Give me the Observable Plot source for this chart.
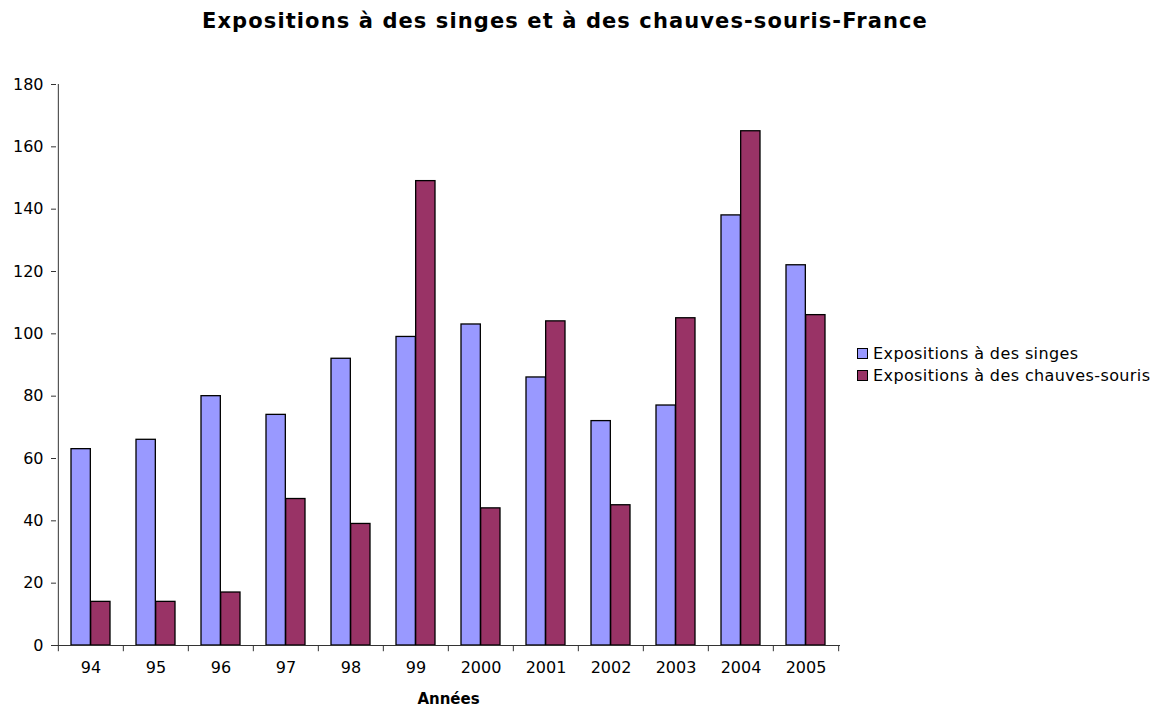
<!DOCTYPE html>
<html>
<head>
<meta charset="utf-8">
<script src="https://cdn.jsdelivr.net/npm/d3@7"></script>
<script src="https://cdn.jsdelivr.net/npm/@observablehq/plot@0.6"></script>
<style>
  html, body { margin: 0; padding: 0; background: #fff; }
  #wrap { position: relative; width: 1155px; height: 709px; font-family: "DejaVu Sans", Verdana, sans-serif; }
  #title { position: absolute; left: 0; top: 9px; width: 1130px; text-align: center; font-weight: bold; font-size: 21px; letter-spacing: 1.1px; color: #000; }
  #chart { position: absolute; left: 0; top: 50px; }
  #legend { position: absolute; left: 857px; top: 342px; font-size: 16px; letter-spacing: 0.4px; color: #000; }
  .item { display: flex; align-items: center; height: 22px; }
  .sw { width: 11px; height: 11px; border: 1px solid #000; margin-right: 5px; box-sizing: border-box; }
</style>
</head>
<body>
<div id="wrap">
  <div id="title">Expositions à des singes et à des chauves-souris-France</div>
  <div id="chart"></div>
  <div id="legend"></div>
</div>
<script>
const years = ["94","95","96","97","98","99","2000","2001","2002","2003","2004","2005"];
const singes = [63, 66, 80, 74, 92, 99, 103, 86, 72, 77, 138, 122];
const chauves = [14, 14, 17, 47, 39, 149, 44, 104, 45, 105, 165, 106];
const seriesNames = ["Expositions à des singes", "Expositions à des chauves-souris"];
const seriesColors = ["#9999FF", "#993366"];
const yTicks = [0, 20, 40, 60, 80, 100, 120, 140, 160, 180];

const W = 1155, H = 659, mL = 56, mR = 315, mT = 34, mB = 64;
const bw = (W - mL - mR) / years.length;
const outer = 13, half = (bw - 2 * outer) / 2;

const dataS = years.map((y, i) => ({year: y, value: singes[i]}));
const dataC = years.map((y, i) => ({year: y, value: chauves[i]}));

const chart = Plot.plot({
  width: W, height: H,
  marginLeft: mL, marginRight: mR, marginTop: mT, marginBottom: mB,
  style: {fontFamily: "DejaVu Sans, Verdana, sans-serif", fontSize: "16px", color: "#000", background: "#fff"},
  x: {domain: years, padding: 0, label: null},
  y: {domain: [0, 180], label: null},
  marks: [
    Plot.barY(dataS, {x: "year", y: "value", fill: seriesColors[0], stroke: "#000", strokeWidth: 1.3, insetLeft: outer, insetRight: outer + half}),
    Plot.barY(dataC, {x: "year", y: "value", fill: seriesColors[1], stroke: "#000", strokeWidth: 1.3, insetLeft: outer + half, insetRight: outer}),
    Plot.ruleY([0], {stroke: "#333"}),
    Plot.ruleX([years[0]], {y1: 0, y2: 180, dx: -bw / 2, stroke: "#333"}),
    Plot.ruleX(years, {y1: 0, y2: -2, dx: -bw / 2, stroke: "#333"}),
    Plot.ruleX([years[years.length - 1]], {y1: 0, y2: -2, dx: bw / 2, stroke: "#333"}),
    Plot.axisY({ticks: yTicks, tickSize: 5, tickPadding: 8, label: null, fontSize: 16, stroke: "#333"}),
    Plot.axisX({tickSize: 0, tickPadding: 16, label: null, fontSize: 16}),
    Plot.text(["Années"], {frameAnchor: "bottom", dy: 58, fontWeight: "bold", fontSize: 15})
  ]
});
document.getElementById("chart").appendChild(chart);

const legend = document.getElementById("legend");
seriesNames.forEach((n, i) => {
  const it = document.createElement("div");
  it.className = "item";
  const sw = document.createElement("div");
  sw.className = "sw";
  sw.style.background = seriesColors[i];
  const t = document.createElement("span");
  t.textContent = n;
  it.appendChild(sw); it.appendChild(t);
  legend.appendChild(it);
});
</script>
</body>
</html>
